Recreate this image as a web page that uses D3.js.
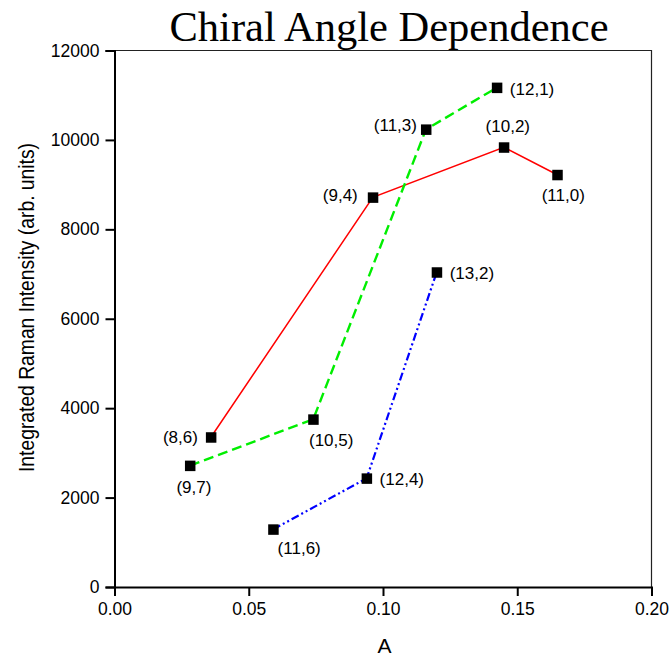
<!DOCTYPE html>
<html>
<head>
<meta charset="utf-8">
<script src="https://cdn.jsdelivr.net/npm/d3@7"></script>
<style>
  body { margin: 0; background: #fff; }
  svg text { font-family: "Liberation Sans", Arial, sans-serif; fill: #000; }
</style>
</head>
<body>
<div id="chart"></div>
<script>
// values
const redA = [0.0359, 0.0962, 0.1450, 0.1649];
const redI = [3350, 8715, 9835, 9220];
const redLabels = ['(8,6)', '(9,4)', '(10,2)', '(11,0)'];

const greenA = [0.0281, 0.0740, 0.1160, 0.1424];
const greenI = [2715, 3750, 10235, 11170];
const greenLabels = ['(9,7)', '(10,5)', '(11,3)', '(12,1)'];

const blueA = [0.0591, 0.0939, 0.1200];
const blueI = [1290, 2430, 7040];
const blueLabels = ['(11,6)', '(12,4)', '(13,2)'];

const xTicks = [0, 0.05, 0.1, 0.15, 0.2];
const yTicks = [0, 2000, 4000, 6000, 8000, 10000, 12000];

// label placement: offsets from the marker centre
const labelPos = {
    '(8,6)': { dx: -13, dy: 6, anchor: 'end' },
    '(9,4)': { dx: -15, dy: 4, anchor: 'end' },
    '(10,2)': { dx: 4, dy: -15, anchor: 'middle' },
    '(11,0)': { dx: 6, dy: 26, anchor: 'middle' },
    '(9,7)': { dx: 4, dy: 27, anchor: 'middle' },
    '(10,5)': { dx: 18, dy: 27, anchor: 'middle' },
    '(11,3)': { dx: -9, dy: 2, anchor: 'end' },
    '(12,1)': { dx: 13, dy: 7, anchor: 'start' },
    '(11,6)': { dx: 26, dy: 25, anchor: 'middle' },
    '(12,4)': { dx: 13, dy: 7, anchor: 'start' },
    '(13,2)': { dx: 13, dy: 7, anchor: 'start' }
};

const width = 669, height = 657;
const margin = { top: 50.5, right: 17.5, bottom: 70, left: 114.5 };

const svg = d3.select('#chart').append('svg')
    .attr('width', width)
    .attr('height', height);

const x = d3.scaleLinear().domain([0, 0.2]).range([margin.left, width - margin.right]);
const y = d3.scaleLinear().domain([0, 12000]).range([height - margin.bottom, margin.top]);

// title
svg.append('text')
    .attr('x', 389)
    .attr('y', 41)
    .attr('text-anchor', 'middle')
    .style('font-family', '"Liberation Serif", "Times New Roman", serif')
    .style('font-size', '42.5px')
    .text('Chiral Angle Dependence');

// frame top/right
svg.append('path')
    .attr('d', `M${x(0)},${y(12000)}H${x(0.2)}V${y(0)}`)
    .attr('fill', 'none')
    .attr('stroke', '#222')
    .attr('stroke-width', 1.2);

// minor + major ticks
const gx = svg.append('g').attr('transform', `translate(0,${y(0)})`);
gx.call(d3.axisBottom(x).tickValues(d3.range(0, 0.2001, 0.025)).tickSize(5).tickFormat(''));
gx.call(d3.axisBottom(x).tickValues(xTicks).tickSize(9).tickPadding(7).tickFormat(d3.format('.2f')));

const gy = svg.append('g').attr('transform', `translate(${x(0)},0)`);
gy.call(d3.axisLeft(y).tickValues(d3.range(0, 12001, 1000)).tickSize(5).tickFormat(''));
gy.call(d3.axisLeft(y).tickValues(yTicks).tickSize(9).tickPadding(6).tickFormat(d3.format('d')));

svg.selectAll('.domain').attr('stroke-width', 2).attr('stroke', '#000');
svg.selectAll('.tick line').attr('stroke-width', 2).attr('stroke', '#000');
svg.selectAll('.tick text').style('font-size', '17.5px').style('font-family', '"Liberation Sans", Arial, sans-serif');

// axis titles
svg.append('text')
    .attr('x', 384.5)
    .attr('y', 653)
    .attr('text-anchor', 'middle')
    .style('font-size', '21px')
    .text('A');

svg.append('text')
    .attr('transform', 'translate(34,307.5) rotate(-90)')
    .attr('text-anchor', 'middle')
    .attr('textLength', 329)
    .attr('lengthAdjust', 'spacingAndGlyphs')
    .style('font-size', '22px')
    .text('Integrated Raman Intensity (arb. units)');

const series = [
    { a: redA, v: redI, labels: redLabels, color: '#ff0000', width: 1.5, dash: null },
    { a: greenA, v: greenI, labels: greenLabels, color: '#00ee00', width: 2.4, dash: '10,5' },
    { a: blueA, v: blueI, labels: blueLabels, color: '#0000ff', width: 2.2, dash: '8,3,2,3,2,3' }
];

const line = d3.line().x(d => x(d[0])).y(d => y(d[1]));

series.forEach(s => {
    const pts = s.a.map((a, i) => [a, s.v[i], s.labels[i]]);

    svg.append('path')
        .datum(pts)
        .attr('d', line)
        .attr('fill', 'none')
        .attr('stroke', s.color)
        .attr('stroke-width', s.width)
        .attr('stroke-dasharray', s.dash);

    svg.selectAll(null)
        .data(pts)
        .join('rect')
        .attr('x', d => x(d[0]) - 5)
        .attr('y', d => y(d[1]) - 5)
        .attr('width', 10.5)
        .attr('height', 10.5)
        .attr('fill', '#000');

    svg.selectAll(null)
        .data(pts)
        .join('text')
        .style('font-size', '17px')
        .attr('x', d => x(d[0]) + labelPos[d[2]].dx)
        .attr('y', d => y(d[1]) + labelPos[d[2]].dy)
        .attr('text-anchor', d => labelPos[d[2]].anchor)
        .text(d => d[2]);
});
</script>
</body>
</html>
